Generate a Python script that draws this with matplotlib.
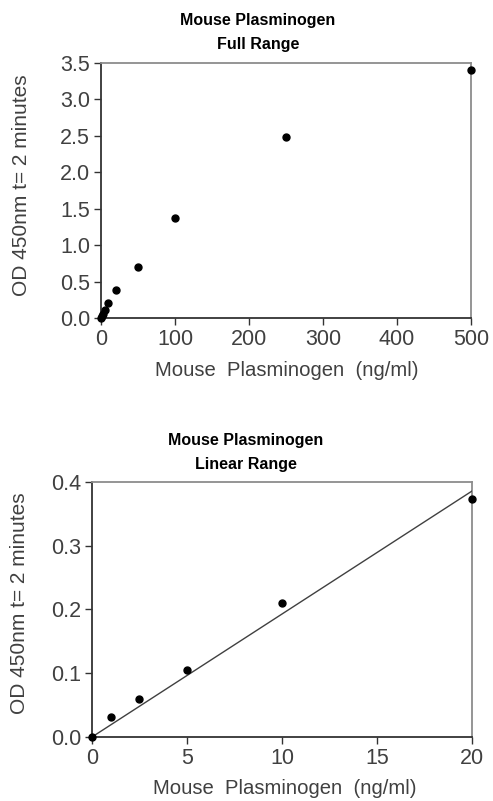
import numpy as np
import matplotlib
matplotlib.use("Agg")
import matplotlib.pyplot as plt

plt.rcParams["font.family"] = ["Liberation Sans", "DejaVu Sans"]

# Full range standard curve
full_conc = [0, 1, 2.5, 5, 10, 20, 50, 100, 250, 500]
full_od = [0.0, 0.031, 0.060, 0.105, 0.21, 0.38, 0.70, 1.37, 2.48, 3.41]

# Linear range standard curve
lin_conc = [0, 1, 2.5, 5, 10, 20]
lin_od = [0.0, 0.031, 0.060, 0.105, 0.21, 0.373]

x_label = "Mouse  Plasminogen  (ng/ml)"
y_label = "OD 450nm t= 2 minutes"

text_col = "#404040"


def style_axes(ax):
    for side in ["left", "bottom"]:
        ax.spines[side].set_color("#333333")
        ax.spines[side].set_linewidth(1.3)
    for side in ["top", "right"]:
        ax.spines[side].set_color("#8c8c8c")
        ax.spines[side].set_linewidth(1.3)
    ax.tick_params(direction="out", length=5, width=1.0, color="#333333",
                   labelsize=15.5, labelcolor=text_col, pad=3)


fig = plt.figure(figsize=(4.93, 8.01), dpi=100)

# top chart
ax1 = fig.add_axes([0.2049, 0.603, 0.7505, 0.3184])
ax1.plot(full_conc, full_od, "o", color="black", markersize=5, clip_on=False, zorder=5)
ax1.set_xlim(0, 500)
ax1.set_ylim(0, 3.5)
ax1.set_xticks([0, 100, 200, 300, 400, 500])
ax1.set_yticks(np.arange(0, 3.51, 0.5))
ax1.set_yticklabels([f"{v:.1f}" for v in np.arange(0, 3.51, 0.5)])
style_axes(ax1)
fig.text(258 / 493, 1 - 20 / 801, "Mouse Plasminogen", ha="center", va="center",
         fontsize=11.5, fontweight="bold")
fig.text(258 / 493, 1 - 45 / 801, "Full Range", ha="center", va="center",
         fontsize=11.5, fontweight="bold")
fig.text(287 / 493, 1 - 370 / 801, x_label, ha="center", va="center",
         fontsize=14.6, color=text_col)
fig.text(22 / 493, 1 - 185 / 801, y_label, ha="center", va="center",
         fontsize=15, color=text_col, rotation=90)

# bottom chart
ax2 = fig.add_axes([0.1866, 0.0799, 0.7708, 0.3184])
ax2.plot(lin_conc, lin_od, "o", color="black", markersize=5, clip_on=False, zorder=5)
# linear trendline through origin
x = np.array(lin_conc)
y = np.array(lin_od)
slope = np.sum(x * y) / np.sum(x * x)
ax2.plot([0, 20], [0, slope * 20], color="#404040", linewidth=1.0, zorder=4)
ax2.set_xlim(0, 20)
ax2.set_ylim(0, 0.4)
ax2.set_xticks([0, 5, 10, 15, 20])
ax2.set_yticks([0, 0.1, 0.2, 0.3, 0.4])
ax2.set_yticklabels(["0.0", "0.1", "0.2", "0.3", "0.4"])
style_axes(ax2)
fig.text(246 / 493, 1 - 440 / 801, "Mouse Plasminogen", ha="center", va="center",
         fontsize=11.5, fontweight="bold")
fig.text(246 / 493, 1 - 465 / 801, "Linear Range", ha="center", va="center",
         fontsize=11.5, fontweight="bold")
fig.text(285 / 493, 1 - 788 / 801, x_label, ha="center", va="center",
         fontsize=14.6, color=text_col)
fig.text(20 / 493, 1 - 603 / 801, y_label, ha="center", va="center",
         fontsize=15, color=text_col, rotation=90)

plt.savefig("out.png", dpi=100)
plt.close()
